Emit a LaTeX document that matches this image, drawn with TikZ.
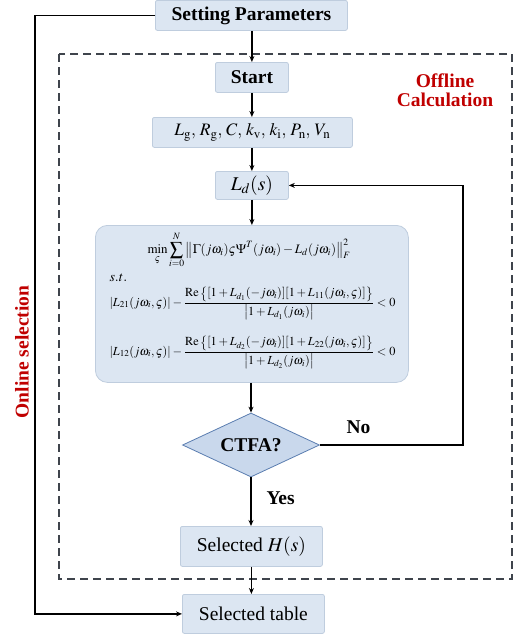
\documentclass[tikz,border=0pt]{standalone}
\usepackage{amsmath}
\usepackage{mathptmx}
\usepackage[no-math]{fontspec}
\setmainfont{Liberation Serif}
\usetikzlibrary{shapes.geometric,arrows.meta}
\definecolor{boxfill}{HTML}{DCE6F2}
\definecolor{boxline}{HTML}{BFCDDE}
\definecolor{diafill}{HTML}{C9D8EC}
\definecolor{dialine}{HTML}{5A7DB0}
\definecolor{redtxt}{HTML}{C00000}
\definecolor{dashcol}{HTML}{3F444C}
\tikzset{
  box/.style={draw=boxline, line width=0.8pt, fill=boxfill, rounded corners=2pt, inner sep=0pt, anchor=north west},
  arr/.style={line width=1.3pt, -{Stealth[length=6pt,width=5pt]}},
  bigtxt/.style={font=\fontsize{19.5}{21}\selectfont\bfseries},
  normtxt/.style={font=\fontsize{19.5}{21}\selectfont},
  redlab/.style={font=\fontsize{19.5}{21}\selectfont\bfseries, text=redtxt, align=center},
  formula/.style={font=\fontsize{12.3}{15}\selectfont},
}
\begin{document}
\begin{tikzpicture}[x=1pt,y=-1pt]
\useasboundingbox (0,0) rectangle (521,638);
% offline dashed region
\draw[dashcol, line width=1.3pt, dash pattern=on 8pt off 5pt] (59,54) rectangle (512,579);
% boxes
\node[box, minimum width=192pt, minimum height=30pt] (sp) at (155,0) {};
\node[bigtxt] at (sp.center) {Setting Parameters};
\node[box, minimum width=73pt, minimum height=30pt] (st) at (215,62) {};
\node[bigtxt] at (st.center) {Start};
\node[box, minimum width=200pt, minimum height=30pt] (pr) at (152,117) {};
\node[font=\fontsize{17.5}{20}\selectfont] at (pr.center) {$L_\mathrm{g},\, R_\mathrm{g},\, C,\, k_\mathrm{v},\, k_\mathrm{i},\, P_\mathrm{n},\, V_\mathrm{n}$};
\node[box, minimum width=73pt, minimum height=28pt] (ld) at (215,171) {};
\node[normtxt] at (ld.center) {$L_d(s)$};
\node[box, rounded corners=12pt, minimum width=313pt, minimum height=157pt] (opt) at (95,225) {};
\node[font=\fontsize{13}{15}\selectfont] (f1) at (249,250) {$\displaystyle\min_{\varsigma}\sum_{i=0}^{N}\left\|\Gamma(j\omega_i)\varsigma\Psi^T(j\omega_i)-L_d(j\omega_i)\right\|_F^2$};
\node[font=\fontsize{14}{15}\selectfont, anchor=west] (f2) at (106,278) {$s.t.$};
\node[formula, anchor=west] (f3) at (106,303) {$\displaystyle\left|L_{21}(j\omega_i,\varsigma)\right|-\frac{\mathrm{Re}\left\{[1+L_{d_1}(-j\omega_i)][1+L_{11}(j\omega_i,\varsigma)]\right\}}{\left|1+L_{d_1}(j\omega_i)\right|}<0$};
\node[formula, anchor=west] (f4) at (106,352) {$\displaystyle\left|L_{12}(j\omega_i,\varsigma)\right|-\frac{\mathrm{Re}\left\{[1+L_{d_2}(-j\omega_i)][1+L_{22}(j\omega_i,\varsigma)]\right\}}{\left|1+L_{d_2}(j\omega_i)\right|}<0$};
\node[diamond, draw=dialine, line width=0.8pt, fill=diafill, minimum width=137pt, minimum height=64pt, inner sep=0pt, aspect=2.14] (ct) at (251,445) {};
\node[bigtxt] at (ct.center) {CTFA?};
\node[box, minimum width=142pt, minimum height=40pt] (sh) at (180,526) {};
\node[normtxt] at (sh.center) {Selected $H(s)$};
\node[box, minimum width=142pt, minimum height=39pt] (stb) at (182,594) {};
\node[normtxt] at (stb.center) {Selected table};
% labels
\node[redlab] (off) at (445,90) {Offline\\[-2pt]Calculation};
\node[redlab, rotate=90] (on) at (22,352) {Online selection};
\node[bigtxt, anchor=west] (no) at (343,427) {No};
\node[bigtxt, anchor=west] (yes) at (263,498) {Yes};
% connectors
\draw[arr] (sp.south -| st.north) -- (st.north);
\draw[arr] (st.south) -- (st.south |- pr.north);
\draw[arr] (pr.south -| ld.north) -- (ld.north);
\draw[arr] (ld.south) -- (ld.south |- opt.north);
\draw[arr] (opt.south -| ct.north) -- (ct.north);
\draw[arr] (ct.south) -- (ct.south |- sh.north);
\draw[arr] (sh.south) -- (sh.south |- stb.north);
\coordinate (fbA) at (463,445);
\coordinate (fbB) at (463,185);
\draw[arr] (ct.east) -- (ct.east -| fbA) -- (fbB |- ld.east) -- (ld.east);
\coordinate (olA) at (35,16);
\draw[arr] (sp.west) -- (sp.west -| olA) -- (olA |- stb.west) -- (stb.west);
\end{tikzpicture}
\end{document}
